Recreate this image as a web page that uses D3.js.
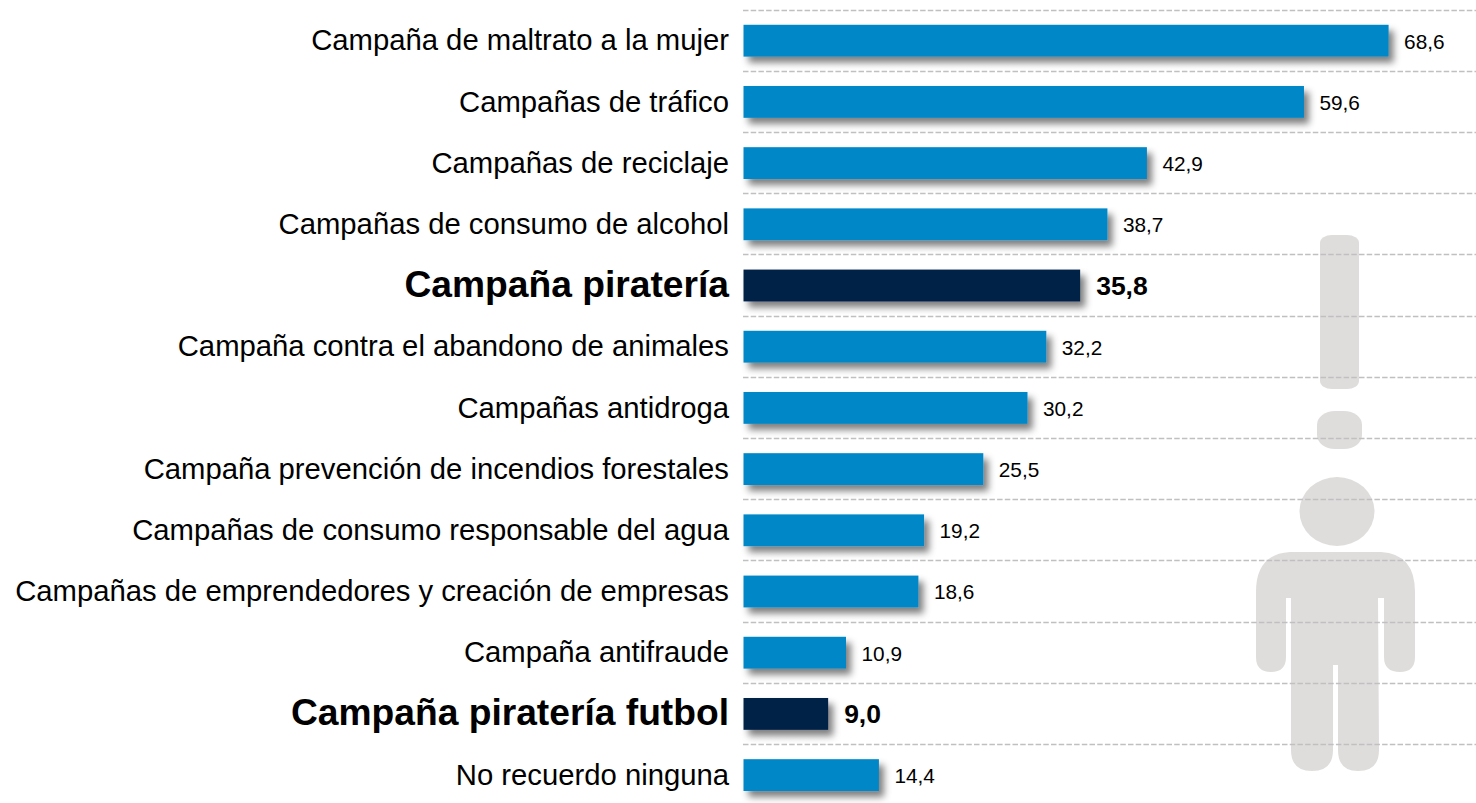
<!DOCTYPE html>
<html><head><meta charset="utf-8">
<script src="https://cdnjs.cloudflare.com/ajax/libs/d3/7.8.5/d3.min.js"></script>
<style>html,body{margin:0;padding:0;background:#fff;overflow:hidden}svg{display:block}text{font-family:"Liberation Sans",Arial,sans-serif}</style>
</head><body><svg id="c" width="1476" height="803"></svg>
<script>
const categories=["Campaña de maltrato a la mujer","Campañas de tráfico","Campañas de reciclaje","Campañas de consumo de alcohol","Campaña piratería","Campaña contra el abandono de animales","Campañas antidroga","Campaña prevención de incendios forestales","Campañas de consumo responsable del agua","Campañas de emprendedores y creación de empresas","Campaña antifraude","Campaña piratería futbol","No recuerdo ninguna"];
const values=[68.6,59.6,42.9,38.7,35.8,32.2,30.2,25.5,19.2,18.6,10.9,9.0,14.4];
const highlighted=["Campaña piratería","Campaña piratería futbol"];
const fmt=v=>v.toFixed(1).replace(".",",");

const svg=d3.select("#c");
const x=d3.scaleLinear().domain([0,68.6]).range([743.5,1388.6]);
const y=d3.scaleBand().domain(categories).range([10.5,806.1]).paddingInner(0.48).paddingOuter(0.24);
const isH=c=>highlighted.includes(c);

const f=svg.append("defs").append("filter").attr("id","sh").attr("x","-10%").attr("y","-30%").attr("width","130%").attr("height","190%");
f.append("feGaussianBlur").attr("in","SourceAlpha").attr("stdDeviation",3.5).attr("result","b");
f.append("feOffset").attr("in","b").attr("dx",5).attr("dy",6).attr("result","o");
f.append("feFlood").attr("flood-color","#000").attr("flood-opacity",0.5);
f.append("feComposite").attr("in2","o").attr("operator","in").attr("result","s");
const m=f.append("feMerge");m.append("feMergeNode").attr("in","s");m.append("feMergeNode").attr("in","SourceGraphic");

// background icon
const icon=svg.append("g").attr("fill","#dfdddc");
icon.append("rect").attr("x",1320).attr("y",235).attr("width",39).attr("height",154).attr("rx",12).attr("ry",8);
icon.append("rect").attr("x",1317).attr("y",411).attr("width",45).attr("height",38).attr("rx",18).attr("ry",14);
icon.append("ellipse").attr("cx",1337).attr("cy",511.5).attr("rx",37.5).attr("ry",34.5);
icon.append("path").attr("d","M1290 552H1381Q1415 554 1415 592V657Q1415 672 1400 672Q1384 672 1384 657V598H1378L1379 750Q1379 771 1358 771Q1338 771 1338 750V665H1333V750Q1333 771 1312 771Q1291 771 1291 750V598H1286V657Q1286 672 1271 672Q1256 672 1256 657V592Q1256 554 1290 552Z");

// grid lines
svg.append("g").selectAll("line").data(categories).join("line")
  .attr("x1",743).attr("x2",1476)
  .attr("y1",c=>Math.round(y(c)-15.6)+.5).attr("y2",c=>Math.round(y(c)-15.6)+.5)
  .attr("stroke","#c0c0c0").attr("stroke-width",1.5).attr("stroke-dasharray","5.5 2.2");

// bars
svg.append("g").selectAll("rect").data(categories).join("rect")
  .attr("x",x(0)).attr("y",c=>y(c)-0.4).attr("height",y.bandwidth())
  .attr("width",(c,i)=>x(values[i])-x(0))
  .attr("fill",c=>isH(c)?"#002147":"#0087c8")
  .attr("filter","url(#sh)");

// category labels
const ax=svg.append("g").attr("transform","translate(729,0)").call(d3.axisLeft(y).tickSize(0).tickPadding(0));
ax.select(".domain").remove();
ax.selectAll("text").attr("fill","#000").attr("font-family",'"Liberation Sans",Arial,sans-serif')
  .attr("font-size",c=>isH(c)?37.2:29.25).attr("font-weight",c=>isH(c)?"bold":"normal")
  .attr("x",0).attr("dy",c=>isH(c)?"0.3em":"0.32em");

// value labels
svg.append("g").selectAll("text").data(categories).join("text")
  .attr("x",(c,i)=>x(values[i])+(isH(c)?16:15.5)).attr("y",c=>y(c)+y.bandwidth()/2+(isH(c)?9:7.5))
  .attr("font-size",c=>isH(c)?26.5:20.8).attr("font-weight",c=>isH(c)?"bold":"normal").attr("fill","#000")
  .text((c,i)=>fmt(values[i]));
</script></body></html>
